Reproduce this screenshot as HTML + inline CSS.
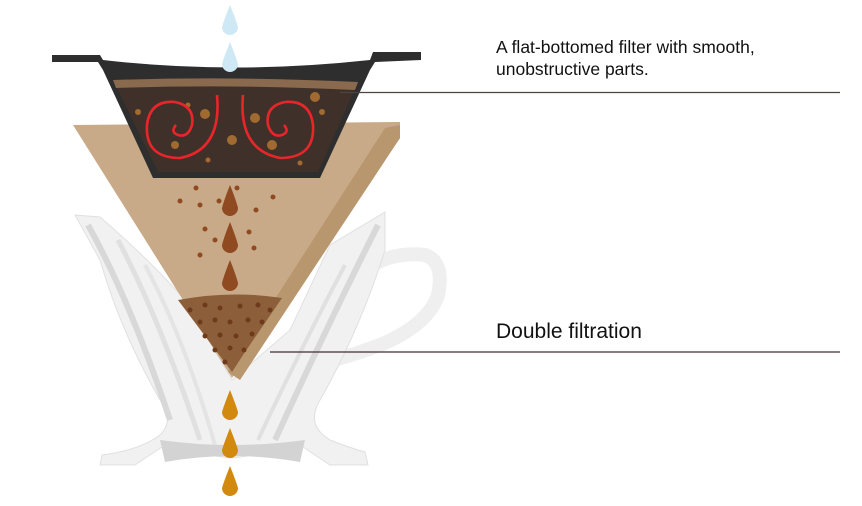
<!DOCTYPE html>
<html><head><meta charset="utf-8"><style>
html,body{margin:0;padding:0;background:#fff;}
svg{display:block;}
</style></head><body>
<svg width="862" height="506" viewBox="0 0 862 506" xmlns="http://www.w3.org/2000/svg">
<!-- handle -->
<path d="M378 262 Q400 252 425 255 Q445 262 438 295 Q428 325 380 345 Q340 360 300 368" fill="none" stroke="#efefef" stroke-width="14" stroke-linecap="round"/>
<!-- dripper white body -->
<path d="M75 215 L100 217 Q150 260 185 300 L232 380 L290 330 L330 245 L385 212 L385 250 Q360 330 320 400 Q305 425 330 440 Q350 448 365 452 L368 465 L330 465 L300 445 Q260 455 232 458 Q200 455 165 445 L135 465 L100 465 L102 455 Q140 450 160 435 Q175 420 160 400 Q120 330 100 260 Z" fill="#f1f1f1" stroke="#e0e0e0" stroke-width="1"/>
<path d="M88 225 Q130 300 170 420" stroke="#d8d8d8" stroke-width="6" fill="none"/>
<path d="M118 240 Q160 320 200 440" stroke="#e0e0e0" stroke-width="5" fill="none"/>
<path d="M145 265 Q185 340 215 445" stroke="#e4e4e4" stroke-width="4" fill="none"/>
<path d="M378 225 Q330 320 275 440" stroke="#d8d8d8" stroke-width="6" fill="none"/>
<path d="M345 265 Q300 350 258 440" stroke="#e0e0e0" stroke-width="4" fill="none"/>
<path d="M160 440 Q232 450 305 440 L300 462 Q232 450 165 462 Z" fill="#d3d3d3"/>
<!-- filter paper -->
<path d="M73 125 L400 122 L400 138 L232 378 Z" fill="#c9aa88"/>
<path d="M385 128 L400 125 L400 138 L240 380 L228 372 Z" fill="#b8976f"/>
<path d="M178 300 Q230 290 282 298 L245 352 L232 372 Z" fill="#8c5e3a"/>
<g fill="#6e3a1c">
<circle cx="190" cy="310" r="2.5"/><circle cx="205" cy="305" r="2.5"/><circle cx="220" cy="308" r="2.5"/><circle cx="240" cy="306" r="2.5"/><circle cx="258" cy="305" r="2.5"/><circle cx="270" cy="310" r="2.5"/>
<circle cx="200" cy="322" r="2.5"/><circle cx="215" cy="320" r="2.5"/><circle cx="230" cy="322" r="2.5"/><circle cx="248" cy="320" r="2.5"/><circle cx="262" cy="322" r="2.5"/>
<circle cx="205" cy="336" r="2.5"/><circle cx="220" cy="335" r="2.5"/><circle cx="236" cy="336" r="2.5"/><circle cx="252" cy="334" r="2.5"/>
<circle cx="215" cy="350" r="2.5"/><circle cx="230" cy="348" r="2.5"/><circle cx="244" cy="350" r="2.5"/><circle cx="225" cy="362" r="2.5"/>
</g>
<!-- brown drips & dots -->
<g fill="#8f4a22">
<path d="M230 185 Q236 200 238 208 A8 8 0 0 1 222 208 Q224 200 230 185Z"/>
<path d="M230 222 Q236 237 238 245 A8 8 0 0 1 222 245 Q224 237 230 222Z"/>
<path d="M230 260 Q236 275 238 283 A8 8 0 0 1 222 283 Q224 275 230 260Z"/>
<circle cx="196" cy="188" r="2.5"/><circle cx="237" cy="188" r="2.5"/><circle cx="180" cy="201" r="2.5"/><circle cx="200" cy="205" r="2.5"/><circle cx="219" cy="201" r="2.5"/><circle cx="256" cy="210" r="2.5"/><circle cx="273" cy="197" r="2.5"/>
<circle cx="205" cy="229" r="2.5"/><circle cx="249" cy="232" r="2.5"/><circle cx="215" cy="240" r="2.5"/><circle cx="254" cy="248" r="2.5"/><circle cx="200" cy="255" r="2.5"/>
</g>
<!-- holder -->
<path d="M52 55 L100 55 L103 60 Q232 75 370 60 L373 52 L421 52 L421 60 L375 62 L370 70 L320 178 L153 178 L103 70 L98 62 L52 62 Z" fill="#2e2e2e"/>
<path d="M113 80 Q232 76 358 82 L318 172 L158 172 Z" fill="#3f3129"/>
<path d="M113 80 Q232 76 358 82 L355 90 Q232 84 116 88 Z" fill="#8a6a4e"/>
<g fill="#a06a30">
<circle cx="315" cy="97" r="5"/><circle cx="205" cy="114" r="5"/><circle cx="255" cy="118" r="5"/><circle cx="232" cy="140" r="5"/><circle cx="175" cy="145" r="4"/><circle cx="272" cy="145" r="5"/><circle cx="138" cy="112" r="3"/><circle cx="322" cy="112" r="3"/><circle cx="208" cy="160" r="2.5"/><circle cx="300" cy="163" r="2.5"/><circle cx="188" cy="105" r="2.5"/>
</g>
<g fill="none" stroke="#e8262a" stroke-width="2.6">
<path d="M217 95 Q222 150 180 158 Q145 158 147 125 Q150 100 175 102 Q195 106 192 125 Q188 138 178 135 Q170 132 176 125"/>
<path d="M243 95 Q238 150 280 158 Q315 158 313 125 Q310 100 285 102 Q265 106 268 125 Q272 138 282 135 Q290 132 284 125"/>
</g>
<!-- water drops -->
<g fill="#cfe8f6">
<path d="M230 5 Q236 20 238 27 A8 8 0 0 1 222 27 Q224 20 230 5Z"/>
<path d="M230 42 Q236 57 238 64 A8 8 0 0 1 222 64 Q224 57 230 42Z"/>
</g>
<!-- orange drops -->
<g fill="#d28a0e">
<path d="M230 390 Q236 405 238 412 A8 8 0 0 1 222 412 Q224 405 230 390Z"/>
<path d="M230 428 Q236 443 238 450 A8 8 0 0 1 222 450 Q224 443 230 428Z"/>
<path d="M230 466 Q236 481 238 488 A8 8 0 0 1 222 488 Q224 481 230 466Z"/>
</g>
<!-- leader lines -->
<line x1="340" y1="92.5" x2="840" y2="92.5" stroke="#4a4542" stroke-width="1.3"/>
<line x1="270" y1="352" x2="840" y2="352" stroke="#3a3030" stroke-width="1.3"/>
<g font-family="Liberation Sans, sans-serif" fill="#111">
<text x="496" y="53" font-size="17.5">A flat-bottomed filter with smooth,</text>
<text x="496" y="75" font-size="17.5">unobstructive parts.</text>
<text x="496" y="338" font-size="21">Double filtration</text>
</g>
</svg>
</body></html>
